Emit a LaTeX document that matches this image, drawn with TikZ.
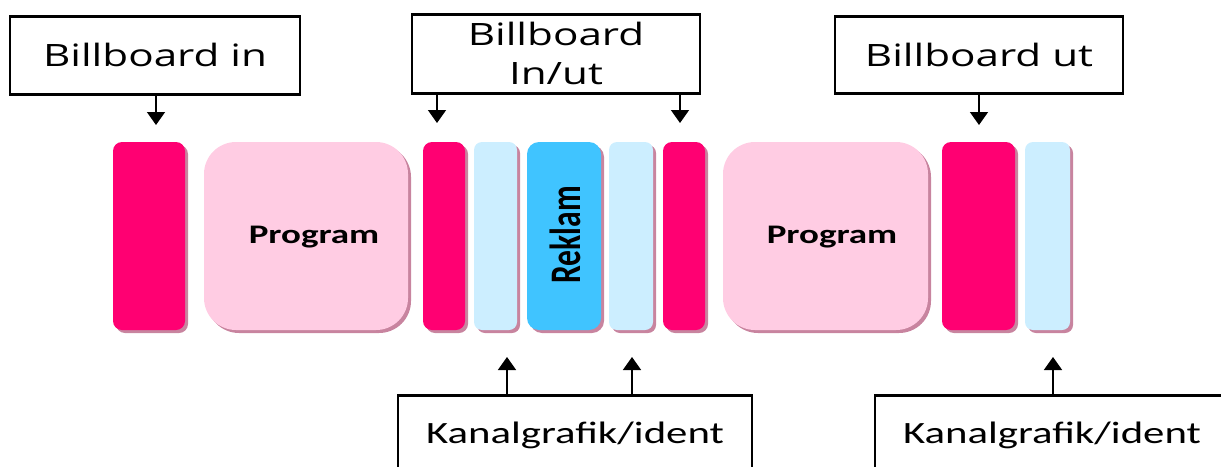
\documentclass[tikz,border=0pt]{standalone}
\usepackage{fontspec}
\usepackage{graphicx}
\usetikzlibrary{arrows.meta,shadows}
\newfontfamily\labfont[FakeStretch=1.37]{Open Sans}
\newfontfamily\calfont[FakeStretch=1.38]{Carlito}
\newfontfamily\rekfont{Carlito}
\definecolor{mag}{HTML}{FF0072}
\definecolor{progpink}{HTML}{FFCCE3}
\definecolor{lblue}{HTML}{CCEEFF}
\definecolor{rblue}{HTML}{40C4FF}
\definecolor{shcol}{HTML}{C8849F}
\tikzset{
  labbox/.style={draw=black, line width=2.7pt, fill=white, inner sep=0pt, anchor=north,
    font=\labfont\fontsize{30.8}{39}\selectfont, align=center},
  botbox/.style={draw=black, line width=2.7pt, fill=white, inner sep=0pt, anchor=north,
    minimum width=354pt, text height=48pt, text depth=60pt,
    font=\calfont\fontsize{31}{37}\selectfont},
  bar/.style={minimum height=188pt, inner sep=0pt,
    drop shadow={shadow xshift=3pt, shadow yshift=-3pt, fill=shcol, opacity=1}},
  magbar/.style={bar, fill=mag, rounded corners=9pt},
  bluebar/.style={bar, fill=lblue, rounded corners=8pt},
  progbar/.style={bar, fill=progpink, rounded corners=32pt},
  rekbar/.style={bar, fill=rblue, rounded corners=12pt},
  progtext/.style={font=\calfont\bfseries\fontsize{26.8}{30}\selectfont, inner sep=0pt},
  arr/.style={line width=1.6pt, -{Triangle[width=18pt,length=13pt]}}
}
\begin{document}
\begin{tikzpicture}[x=1pt,y=-1pt]
\useasboundingbox (0,0) rectangle (1221,466);
\clip (0,0) rectangle (1221,466);

% top label boxes
\node[labbox, minimum width=290pt, text height=50pt, text depth=28pt] (bin) at (155,15) {Billboard in};
\node[labbox, minimum width=288pt, minimum height=79pt] (binut) at (556,13) {Billboard\\In/ut};
\node[labbox, minimum width=288pt, text height=50pt, text depth=27pt] (but) at (979,15) {Billboard ut};

% bottom label boxes
\node[botbox] (kg1) at (575,394) {Kanalgrafik/ident};
\node[botbox] (kg2) at (1052,394) {Kanalgrafik/ident};

% bars
\node[magbar, minimum width=72pt] (m1) at (149,236) {};
\node[progbar, minimum width=204pt] (p1) at (306,236) {};
\node[magbar, minimum width=42pt] (m2) at (444,236) {};
\node[bluebar, minimum width=43pt] (b1) at (495.5,236) {};
\node[rekbar, minimum width=74pt] (rek) at (564,236) {};
\node[bluebar, minimum width=44pt] (b2) at (631,236) {};
\node[magbar, minimum width=42pt] (m3) at (684,236) {};
\node[progbar, minimum width=205pt] (p2) at (825.5,236) {};
\node[magbar, minimum width=73pt] (m4) at (978.5,236) {};
\node[bluebar, minimum width=45pt] (b3) at (1047.5,236) {};

% texts in bars
\node[progtext] (pt1) at ([xshift=8pt,yshift=-1pt]p1.center) {Program};
\node[progtext] (pt2) at ([xshift=6.5pt,yshift=-1pt]p2.center) {Program};
\node[inner sep=0pt] (rt) at ([xshift=1pt,yshift=1pt]rek.center)
  {\scalebox{1.38}[1]{\rotatebox{90}{\rekfont\bfseries\fontsize{31.6}{36}\selectfont Reklam}}};

% arrow targets
\coordinate (a1) at (156,125);
\coordinate (a2) at (437,123);
\coordinate (a3) at (680,123);
\coordinate (a4) at (979,125);
\coordinate (c1) at (507,357);
\coordinate (c2) at (632,357);
\coordinate (c3) at (1053,357);

\draw[arr] (bin.south -| a1) -- (a1);
\draw[arr] (binut.south -| a2) -- (a2);
\draw[arr] (binut.south -| a3) -- (a3);
\draw[arr] (but.south -| a4) -- (a4);
\draw[arr] (kg1.north -| c1) -- (c1);
\draw[arr] (kg1.north -| c2) -- (c2);
\draw[arr] (kg2.north -| c3) -- (c3);
\end{tikzpicture}
\end{document}
